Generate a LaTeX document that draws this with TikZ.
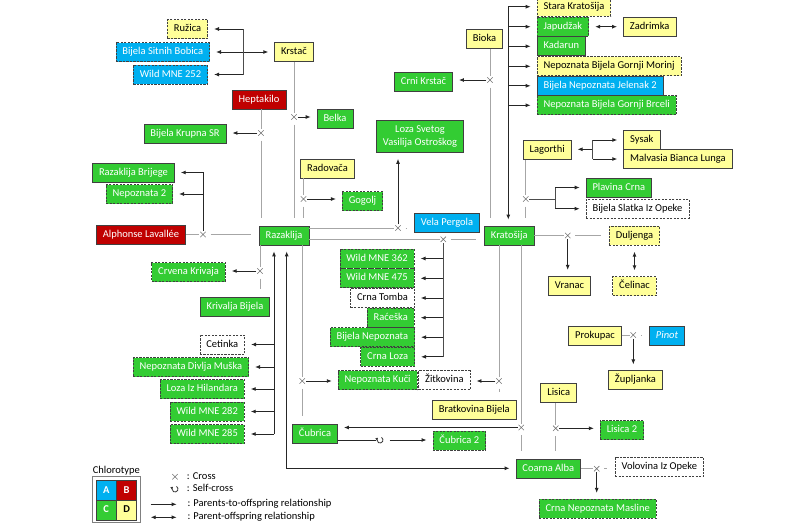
\documentclass[tikz,border=0pt]{standalone}
\usepackage{fontspec}
\setmainfont{Carlito}
\usetikzlibrary{arrows.meta, positioning}

\definecolor{cgreen}{RGB}{51,204,51}
\definecolor{cblue}{RGB}{0,176,240}
\definecolor{cred}{RGB}{192,0,0}
\definecolor{cyellow}{RGB}{255,255,153}
\definecolor{cedge}{RGB}{64,64,64}
\definecolor{cline}{RGB}{166,166,166}

\begin{document}
\begin{tikzpicture}
[x=1pt, y=-1pt, font=\fontsize{10.5}{12.7}\selectfont,
every node/.style={inner xsep=6.5pt, inner ysep=0pt, minimum height=19pt, text height=7.6pt, text depth=2.4pt},
box/.style={draw=cedge, line width=0.7pt},
dsh/.style={dash pattern=on 2.2pt off 1.3pt},
gs/.style={box, fill=cgreen, text=white},
gd/.style={gs, dsh},
ys/.style={box, fill=cyellow},
yd/.style={ys, dsh},
bs/.style={box, fill=cblue, text=white},
bd/.style={bs, dsh},
rs/.style={box, fill=cred, text=white},
wd/.style={box, fill=white, dsh},
xmark/.style={inner sep=0pt, minimum size=7pt, text height=0pt, text depth=0pt},
xline/.style={draw=black!55, line width=0.6pt},
gl/.style={draw=cline, line width=0.9pt, shorten <=4pt, shorten >=8pt},
brk/.style={draw=black!70, line width=1pt},
arr/.style={draw=black!85, line width=0.9pt, -{Latex[length=5pt, width=4pt]}, shorten >=6pt},
dbl/.style={arr, {Latex[length=5pt, width=4pt]}-{Latex[length=5pt, width=4pt]}, shorten <=6pt},
cell/.style={box, minimum width=20pt, minimum height=19.6pt, font=\fontsize{10.5}{12}\selectfont\bfseries}
]
\useasboundingbox (0,0) rectangle (788,525);

% yellow
\node[ys] (krstac) at (294,52) {Krstač};
\node[ys] (bioka) at (484.5,39) {Bioka};
\node[ys] (zadrimka) at (649.7,27) {Zadrimka};
\node[ys] (radovaca) at (327.5,168.5) {Radovača};
\node[ys] (lagorthi) at (547.2,150) {Lagorthi};
\node[ys, anchor=west] (sysak) at (623.3,140) {Sysak};
\node[ys, anchor=west] (malvasia) at (623.3,159) {Malvasia Bianca Lunga};
\node[ys] (vranac) at (569.5,285.8) {Vranac};
\node[ys] (prokupac) at (595,336.2) {Prokupac};
\node[ys] (zupljanka) at (635.5,380.3) {Župljanka};
\node[ys] (bratkovina) at (474.3,409.5) {Bratkovina Bijela};
\node[ys] (lisica) at (558.7,393) {Lisica};
\node[yd, anchor=east] (ruzica) at (208,29) {Ružica};
\node[yd, anchor=west] (stara) at (536.7,6.7) {Stara Kratošija};
\node[yd, anchor=west] (nbgm) at (536.7,66.3) {Nepoznata Bijela Gornji Morinj};
\node[yd] (duljenga) at (634.5,235.8) {Duljenga};
\node[yd] (celinac) at (634.5,286.2) {Čelinac};

% blue and red
\node[bs] (vela) at (447,223) {Vela Pergola};
\node[bs, anchor=west] (bnj2) at (536.7,85.8) {Bijela Nepoznata Jelenak 2};
\node[bs] (pinot) at (667,336.2) {\itshape Pinot};
\node[bd, anchor=east] (bsb) at (210,52) {Bijela Sitnih Bobica};
\node[bd, anchor=east] (wm252) at (208,74.5) {Wild MNE 252};
\node[rs] (heptakilo) at (259,99.5) {Heptakilo};
\node[rs] (alphonse) at (141,234.5) {Alphonse Lavallée};

% green
\node[gs] (belka) at (335,118.5) {Belka};
\node[gs] (bkrupna) at (185,133.5) {Bijela Krupna SR};
\node[gs] (crnikrstac) at (423.5,82.2) {Crni Krstač};
\node[gs, align=center, minimum height=32pt, text height={}, text depth={}] (loza) at (420,136.5) {Loza Svetog\\Vasilija Ostroškog};
\node[gs, anchor=west] (kadarun) at (536.7,46.3) {Kadarun};
\node[gs, anchor=east] (rbrijege) at (174.7,172.5) {Razaklija Brijege};
\node[gs] (razaklija) at (284,235.5) {Razaklija};
\node[gs] (kratosija) at (509.3,235.5) {Kratošija};
\node[gs, anchor=west] (plavina) at (585.7,187.5) {Plavina Crna};
\node[gs] (krivalja) at (235,307) {Krivalja Bijela};
\node[gs] (cubrica) at (315,433.7) {Čubrica};
\node[gs] (coarna) at (548.3,468.7) {Coarna Alba};
\node[gd, anchor=west] (japudzak) at (536.7,26.7) {Japudžak};
\node[gd, anchor=west] (nbgb) at (536.7,105.3) {Nepoznata Bijela Gornji Brceli};
\node[gd, anchor=east] (nep2) at (173,194) {Nepoznata 2};
\node[gd] (gogolj) at (362.5,201) {Gogolj};
\node[gd] (crvena) at (188.5,272) {Crvena Krivaja};
\node[gd, anchor=east] (wm362) at (414.5,258.5) {Wild MNE 362};
\node[gd, anchor=east] (wm475) at (414.5,278.3) {Wild MNE 475};
\node[wd, anchor=east] (crnatomba) at (414.7,298) {Crna Tomba};
\node[gd, anchor=east] (raceska) at (414.7,317.7) {Raćeška};
\node[gd, anchor=east] (bijnep) at (415,337.2) {Bijela Nepoznata};
\node[gd, anchor=east] (crnaloza) at (415,356.8) {Crna Loza};
\node[wd, anchor=east] (cetinka) at (245,344.5) {Cetinka};
\node[gd, anchor=east] (ndm) at (249,367) {Nepoznata Divlja Muška};
\node[gd, anchor=east] (lozah) at (244.7,389) {Loza Iz Hilandara};
\node[gd, anchor=east] (wm282) at (244.7,411.5) {Wild MNE 282};
\node[gd, anchor=east] (wm285) at (244.7,434) {Wild MNE 285};
\node[gd, anchor=east] (nkuci) at (417.5,380.3) {Nepoznata Kuči};
\node[wd, anchor=west] (zitkovina) at (418.3,380.3) {Žitkovina};
\node[gd] (cubrica2) at (459.3,440.8) {Čubrica 2};
\node[gd] (lisica2) at (622,430.3) {Lisica 2};
\node[gd] (cnm) at (597.7,508.8) {Crna Nepoznata Masline};
\node[wd, anchor=west] (bslatka) at (585.7,208.7) {Bijela Slatka Iz Opeke};
\node[wd] (volovina) at (659.3,467) {Volovina Iz Opeke};

% crosses
\foreach \n/\x/\y in {xbk/261/133, xbe/294/117, xgo/303.5/199, xal/203/234.5,
  xck/260/271, xnk/302.3/381, xvp/398/228, xkr/443.3/239.3, xcr/490/80,
  xla/525.7/199, xdu/567.7/235.5, xpr/633.3/335, xzi/499/381,
  xcu/521.3/427.5, xli/555.7/428.3, xvo/596.7/468.7, sc/380/440}
  \node[xmark] (\n) at (\x,\y) {};

% branch points
\coordinate (kb) at (243,52);
\coordinate (sk) at (508.3,0);
\coordinate (cb) at (274,0);
\coordinate (lb) at (555,199);
\coordinate (sb) at (592.7,149.3);
\coordinate (lp) at (286.7,468.3);

% parents to crosses
\draw[gl] (xbk |- heptakilo.south) -- (xbk) -- (xbk |- razaklija.north);
\draw[gl] (xbe |- krstac.south) -- (xbe) -- (xbe |- razaklija.north);
\draw[gl] (xgo |- radovaca.south) -- (xgo) -- (xgo |- razaklija.north);
\draw[gl] (alphonse.east |- xal) -- (xal) -- (xal -| razaklija.west);
\draw[gl] (xck |- razaklija.south) -- (xck) -- (xck |- krivalja.north);
\draw[gl] (xnk |- razaklija.south) -- (xnk) -- (xnk |- cubrica.north);
\draw[gl] (xvp -| razaklija.east) -- (xvp) -- (xvp -| vela.west);
\draw[gl] (xkr -| razaklija.east) -- (xkr) -- (xkr -| kratosija.west);
\draw[gl] (xcr |- bioka.south) -- (xcr) -- (xcr |- kratosija.north);
\draw[gl] (xla |- lagorthi.south) -- (xla) -- (xla |- kratosija.north);
\draw[gl] (xdu -| kratosija.east) -- (xdu) -- (xdu -| duljenga.west);
\draw[gl] (xpr -| prokupac.east) -- (xpr) -- (xpr -| pinot.west);
\draw[gl] (xzi |- kratosija.south) -- (xzi) -- (xzi |- bratkovina.north);
\draw[gl] (xcu |- kratosija.south) -- (xcu) -- (xcu |- coarna.north);
\draw[gl] (xli |- lisica.south) -- (xli) -- (xli |- coarna.north);
\draw[gl] (xvo -| coarna.east) -- (xvo) -- (xvo -| volovina.west);

% crosses to offspring
\draw[arr] (xbk) -- (xbk -| bkrupna.east);
\draw[arr] (xbe) -- (xbe -| belka.west);
\draw[arr] (xgo) -- (xgo -| gogolj.west);
\draw[arr] (xck) -- (xck -| crvena.east);
\draw[arr] (xnk) -- (xnk -| nkuci.west);
\draw[arr] (xvp) -- (xvp |- loza.south);
\draw[arr] (xcr) -- (xcr -| crnikrstac.east);
\draw[arr] (xdu) -- (xdu |- vranac.north);
\draw[arr] (xpr) -- (xpr |- zupljanka.north);
\draw[arr] (xzi) -- (xzi -| zitkovina.east);
\draw[arr] (xcu) -- (xcu -| cubrica.east);
\draw[arr] (xli) -- (xli -| lisica2.west);
\draw[arr] (xvo) -- (xvo |- cnm.north);
\draw[arr] (xal) |- (rbrijege.east);
\draw[arr] (xal |- nep2.east) -- (nep2.east);
\draw[brk] (xla) -- (lb);
\draw[brk] (lb |- plavina.west) -- (lb |- bslatka.west);
\draw[arr] (lb |- plavina.west) -- (plavina.west);
\draw[arr] (lb |- bslatka.west) -- (bslatka.west);
\draw[brk] (xkr) -- (xkr |- crnaloza.east);
\foreach \n in {wm362, wm475, crnatomba, raceska, bijnep, crnaloza}
  \draw[arr] (xkr |- \n.east) -- (\n.east);
\draw[arr, shorten <=6pt] (sc -| cubrica.east) -- (sc) -- (sc -| cubrica2.west);

% parent-offspring
\draw[dbl] (bsb.east) -- (bsb.east -| krstac.west);
\draw[brk] (kb |- ruzica.east) -- (kb |- wm252.east);
\draw[arr] (kb |- ruzica.east) -- (ruzica.east);
\draw[arr] (kb |- wm252.east) -- (wm252.east);
\draw[arr] (sk |- stara.west) -- (sk |- kratosija.north);
\foreach \n in {stara, japudzak, kadarun, nbgm, bnj2, nbgb}
  \draw[arr] (sk |- \n.west) -- (\n.west);
\draw[arr] (cb |- wm285.east) -- (cb |- razaklija.south);
\foreach \n in {cetinka, ndm, lozah, wm282, wm285}
  \draw[arr] (cb |- \n.east) -- (\n.east);
\draw[arr] (sb) -- (sb -| lagorthi.east);
\draw[brk] (sb |- sysak.west) -- (sb |- malvasia.west);
\draw[arr] (sb |- sysak.west) -- (sysak.west);
\draw[arr] (sb |- malvasia.west) -- (malvasia.west);
\draw[dbl] (japudzak.east) -- (japudzak.east -| zadrimka.west);
\draw[dbl] (duljenga.south) -- (celinac.north);
\draw[dbl] (lp |- razaklija.south) -- (lp) -- (lp -| coarna.west);

% legend
\node[inner xsep=0pt] (chl) at (116.3,470.5) {Chlorotype};
\node[draw=black!50, line width=0.6pt, minimum width=47.3pt, minimum height=46pt] (lgd) at (116.3,499.7) {};
\node[cell, fill=cblue, text=white] (ca) at (106.2,490.4) {A};
\node[cell, fill=cred, text=white] (cbx) at (126.6,490.4) {B};
\node[cell, fill=cgreen, text=white] (cc) at (106.2,510.2) {C};
\node[cell, fill=cyellow] (cd) at (126.6,510.2) {D};
\node[xmark] (lx) at (175,476.7) {};
\node[xmark] (lsc) at (175,489) {};
\coordinate (la1) at (150.7,504.3);
\coordinate (la2) at (176.7,504.3);
\coordinate (ld1) at (150.7,517.3);
\coordinate (ld2) at (176.7,517.3);
\draw[arr, shorten >=0pt] (la1) -- (la2);
\draw[dbl, shorten >=0pt, shorten <=0pt] (ld1) -- (ld2);
\node[anchor=west, inner xsep=0pt] (tx) at (186.7,476.7) {: Cross};
\node[anchor=west, inner xsep=0pt] (tsc) at (186.7,489) {: Self-cross};
\node[anchor=west, inner xsep=0pt] (tpo) at (187.3,504.3) {: Parents-to-offspring relationship};
\node[anchor=west, inner xsep=0pt] (tpr) at (187.3,517.3) {: Parent-offspring relationship};

% cross and self-cross marks
\foreach \n in {xbk, xbe, xgo, xal, xck, xnk, xvp, xkr, xcr, xla, xdu, xpr, xzi, xcu, xli, xvo, lx}
  \draw[xline] ([shift={(-2.7pt,-2.7pt)}]\n.center) -- ([shift={(2.7pt,2.7pt)}]\n.center)
    ([shift={(-2.7pt,2.7pt)}]\n.center) -- ([shift={(2.7pt,-2.7pt)}]\n.center);
\begin{scope}[y=1pt]
\foreach \n in {sc, lsc}
  \draw[black!80, line width=0.8pt, -{Latex[length=2.4pt, width=3pt]}]
    ([shift={(60:3pt)}]\n.center) arc[start angle=60, end angle=-230, radius=3pt];
\end{scope}

\end{tikzpicture}
\end{document}
